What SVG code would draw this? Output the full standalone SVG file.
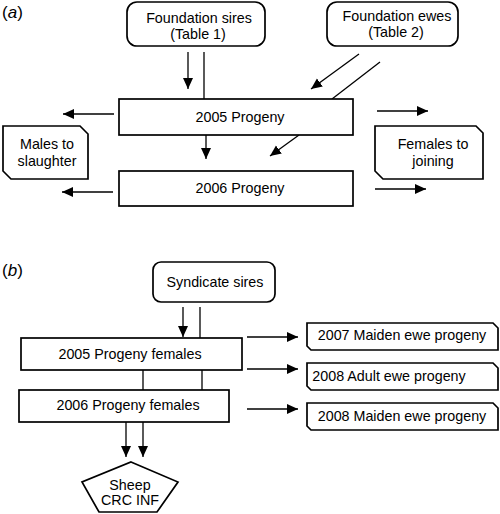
<svg xmlns="http://www.w3.org/2000/svg" width="500" height="514" viewBox="0 0 500 514">
<style>
.box{fill:#fff;stroke:#000;stroke-width:1.7}
.ln{fill:none;stroke:#000;stroke-width:1.3}
.t{font-family:"Liberation Sans",Arial,sans-serif;font-size:14.3px;fill:#000;text-anchor:middle}
.lab{font-family:"Liberation Sans",Arial,sans-serif;font-size:17px;fill:#000}
</style>
<defs>
<marker id="ah" markerUnits="userSpaceOnUse" markerWidth="13" markerHeight="11" refX="11" refY="5" orient="auto">
<path d="M0,0 L11,5 L0,10 Z" fill="#000"/>
</marker>
</defs>
<rect width="500" height="514" fill="#fff"/>
<text class="lab" x="2" y="18">(<tspan font-style="italic">a</tspan>)</text>
<text class="lab" x="2" y="276">(<tspan font-style="italic">b</tspan>)</text>

<g id="connectors">
<line class="ln" x1="188" y1="52" x2="188" y2="89" marker-end="url(#ah)"/>
<line class="ln" x1="204" y1="52" x2="204" y2="99"/>
<line class="ln" x1="359" y1="54" x2="311" y2="89" marker-end="url(#ah)"/>
<line class="ln" x1="380" y1="62" x2="332" y2="99"/>
<line class="ln" x1="206" y1="135" x2="206" y2="159" marker-end="url(#ah)"/>
<line class="ln" x1="299" y1="135" x2="270" y2="156" marker-end="url(#ah)"/>
<line class="ln" x1="114" y1="114" x2="63" y2="114" marker-end="url(#ah)"/>
<line class="ln" x1="113" y1="192" x2="62" y2="192" marker-end="url(#ah)"/>
<line class="ln" x1="377" y1="111" x2="428" y2="111" marker-end="url(#ah)"/>
<line class="ln" x1="375" y1="189" x2="426" y2="189" marker-end="url(#ah)"/>
<line class="ln" x1="183" y1="307" x2="183" y2="337" marker-end="url(#ah)"/>
<line class="ln" x1="200" y1="307" x2="200" y2="338"/>
<line class="ln" x1="143" y1="370" x2="143" y2="390"/>
<line class="ln" x1="202" y1="370" x2="202" y2="390"/>
<line class="ln" x1="126" y1="422" x2="126" y2="457" marker-end="url(#ah)"/>
<line class="ln" x1="143" y1="422" x2="143" y2="457" marker-end="url(#ah)"/>
<line class="ln" x1="247" y1="337" x2="298" y2="337" marker-end="url(#ah)"/>
<line class="ln" x1="247" y1="369" x2="298" y2="369" marker-end="url(#ah)"/>
<line class="ln" x1="247" y1="409" x2="298" y2="409" marker-end="url(#ah)"/>
</g>

<g id="foundation-sires">
<rect class="box" x="127" y="2" width="138" height="44" rx="10"/>
<text class="t" x="199" y="23">Foundation sires</text>
<text class="t" x="198" y="39">(Table 1)</text>
</g>
<g id="foundation-ewes">
<rect class="box" x="327" y="2" width="131" height="44" rx="10"/>
<text class="t" x="397" y="21">Foundation ewes</text>
<text class="t" x="396" y="37">(Table 2)</text>
</g>
<g id="progeny-2005">
<rect class="box" x="119" y="99" width="234" height="36"/>
<text class="t" x="240" y="122">2005 Progeny</text>
</g>
<g id="progeny-2006">
<rect class="box" x="119" y="171" width="234" height="35"/>
<text class="t" x="240" y="193">2006 Progeny</text>
</g>
<g id="males-to-slaughter">
<path class="box" d="M3,126 H80 L88,134 V179 H11 L3,171 Z"/>
<text class="t" x="47" y="149">Males to</text>
<text class="t" x="47" y="166">slaughter</text>
</g>
<g id="females-to-joining">
<path class="box" d="M375,126 H476 L483,133 V179 H383 L375,171 Z"/>
<text class="t" x="433" y="149">Females to</text>
<text class="t" x="433" y="166">joining</text>
</g>

<g id="syndicate-sires">
<rect class="box" x="153" y="262" width="122" height="40" rx="8"/>
<text class="t" x="215" y="287">Syndicate sires</text>
</g>
<g id="progeny-females-2005">
<rect class="box" x="21" y="338" width="221" height="32"/>
<text class="t" x="130" y="359">2005 Progeny females</text>
</g>
<g id="progeny-females-2006">
<rect class="box" x="19" y="390" width="210" height="32"/>
<text class="t" x="128" y="410">2006 Progeny females</text>
</g>
<g id="sheep-crc-inf">
<path class="box" d="M131,462 L178,482 L157,512 H99 L82,482 Z"/>
<text class="t" x="130" y="490">Sheep</text>
<text class="t" x="130" y="505">CRC INF</text>
</g>
<g id="maiden-2007">
<path class="box" d="M307,323 H493 L498,328 V350 H311 L307,346 Z"/>
<text class="t" x="402" y="340">2007 Maiden ewe progeny</text>
</g>
<g id="adult-2008">
<path class="box" d="M307,363 H493 L498,368 V390 H311 L307,386 Z"/>
<text class="t" x="389" y="381">2008 Adult ewe progeny</text>
</g>
<g id="maiden-2008">
<path class="box" d="M307,403 H493 L498,408 V430 H311 L307,426 Z"/>
<text class="t" x="402" y="421">2008 Maiden ewe progeny</text>
</g>
</svg>
